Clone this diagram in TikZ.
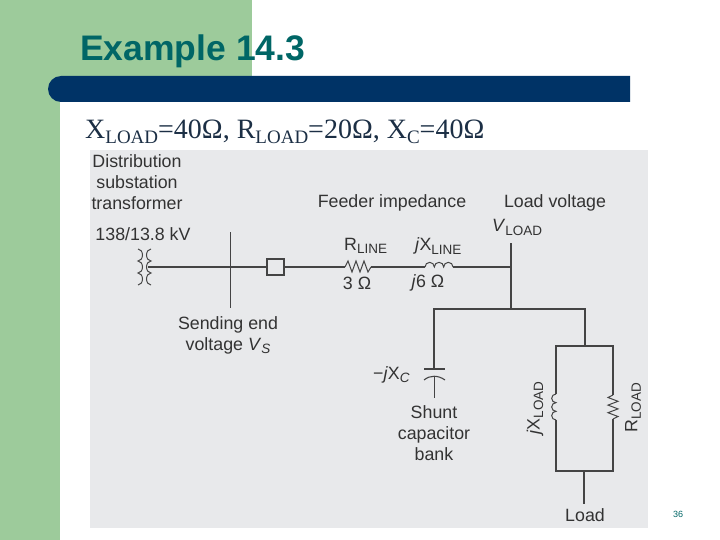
\documentclass[tikz,border=0pt]{standalone}
\usepackage{fontspec}
\setmainfont{Liberation Sans}
\newfontfamily\serifface{Liberation Serif}
\definecolor{sidegreen}{HTML}{9DCB9B}
\definecolor{barblue}{HTML}{003366}
\definecolor{titleteal}{HTML}{006666}
\definecolor{panelgrey}{HTML}{E8E9EB}
\definecolor{inktext}{HTML}{333333}
\definecolor{wireink}{HTML}{444444}
\definecolor{headnavy}{HTML}{1C2F45}
\newcommand{\fs}[1]{\fontsize{#1}{#1}\selectfont}
\newcommand{\lowsub}[1]{\raisebox{-3.5pt}{\fs{13.5}#1}}
\newcommand{\headsub}[1]{\raisebox{-5pt}{\fs{19}#1}}
\tikzset{
  label/.style={text=inktext,font=\fs{17.8},inner sep=0pt,align=center},
  wire/.style={draw=wireink,line width=1.1pt,line join=miter},
  coil/.style={draw=wireink,line width=1pt}
}
\begin{document}
\begin{tikzpicture}[x=1pt,y=-1pt]
\useasboundingbox (0,0) rectangle (720,540);
% Slide background
\fill[white] (0,0) rectangle (720,540);
\fill[sidegreen] (0,0) rectangle (60,540);
\fill[sidegreen] (60,0) rectangle (252,102);
\fill[barblue] (61,76) -- (630,76) -- (630,102) -- (61,102) arc[start angle=90,end angle=270,radius=13];
\fill[panelgrey] (90,150) rectangle (648,528);

% Heading
\node[anchor=base west,inner sep=0pt,text=titleteal,font=\fs{35.5}\bfseries] (title) at (80,61) {Example 14.3};
\node[anchor=base west,inner sep=0pt,text=headnavy,font=\serifface\fs{28}] (given) at (85,139)
  {X\headsub{LOAD}=40Ω, R\headsub{LOAD}=20Ω, X\headsub{C}=40Ω};
\node[anchor=base,text=titleteal,font=\fs{9},inner sep=0pt] (page) at (678,517) {36};

% Coordinates of the circuit
\coordinate (lineL) at (148,267);
\coordinate (vsT) at (230,232);
\coordinate (vsB) at (230,308);
\coordinate (boxL) at (267,267);
\coordinate (boxR) at (284,267);
\coordinate (rlineL) at (345,267);
\coordinate (rlineR) at (371,267);
\coordinate (xlineL) at (425,267);
\coordinate (xlineR) at (453,267);
\coordinate (busT) at (511,243);
\coordinate (busM) at (511,267);
\coordinate (busB) at (511,309);
\coordinate (tapL) at (434,309);
\coordinate (tapR) at (585,309);
\coordinate (loadT) at (585,346);
\coordinate (capTop) at (434,369);
\coordinate (capEnd) at (434,398);
\coordinate (boxTL) at (556,346);
\coordinate (boxTR) at (613,346);
\coordinate (boxBL) at (556,471);
\coordinate (boxBR) at (613,471);
\coordinate (xloadT) at (556,394);
\coordinate (xloadB) at (556,420);
\coordinate (rloadT) at (613,395);
\coordinate (rloadB) at (613,419);
\coordinate (loadB) at (584,471);
\coordinate (loadE) at (584,504);

% Feeder
\draw[wire] (lineL) -- (boxL);
\draw[wire,line width=0.9pt] (vsT) -- (vsB);
\draw[wire,fill=panelgrey,line width=1.4pt] (267,259) rectangle (284,275);
\draw[wire] (boxR) -- (rlineL);
\draw[coil] (rlineL) -- ++(3,-6) -- ++(4,11) -- ++(4,-11) -- ++(4,11) -- ++(4,-11) -- ++(4,11) -- (rlineR);
\draw[wire] (rlineR) -- (xlineL);
\draw[coil] (xlineL) arc[start angle=180,end angle=360,radius=4.67]
  arc[start angle=180,end angle=360,radius=4.67] arc[start angle=180,end angle=360,radius=4.67];
\draw[wire] (xlineR) -- (busM);
\draw[wire,line width=1.7pt] (busT) -- (busM);
\draw[wire] (busM) -- (busB);

% Transformer windings
\draw[coil] (138,249) arc[start angle=-90,end angle=90,x radius=4.5,y radius=6]
  arc[start angle=-90,end angle=90,x radius=4.5,y radius=6] arc[start angle=-90,end angle=90,x radius=4.5,y radius=6];
\draw[coil] (151,249) arc[start angle=270,end angle=90,x radius=4.5,y radius=6]
  arc[start angle=270,end angle=90,x radius=4.5,y radius=6] arc[start angle=270,end angle=90,x radius=4.5,y radius=6];

% Shunt capacitor and load
\draw[wire] (capTop) -- (tapL) -- (tapR) -- (loadT);
\draw[wire] (424,369) -- (445,369);
\draw[wire] (424,380) .. controls (430,375) and (438,375) .. (445,380);
\draw[wire,line width=0.9pt] (434,377) -- (capEnd);
\draw[wire] (xloadT) -- (boxTL) -- (boxTR) -- (rloadT);
\draw[wire] (xloadB) -- (boxBL) -- (boxBR) -- (rloadB);
\draw[coil] (xloadT) arc[start angle=-90,end angle=-270,radius=4.33]
  arc[start angle=-90,end angle=-270,radius=4.33] arc[start angle=-90,end angle=-270,radius=4.33];
\draw[coil] (rloadT) -- ++(-5,2.5) -- ++(10,3.8) -- ++(-10,3.8) -- ++(10,3.8) -- ++(-10,3.8) -- ++(10,3.8) -- (rloadB);
\draw[wire] (loadB) -- (loadE);

% Labels
\node[label] (dist) at (137,182) {Distribution\\[3.2pt]substation\\[3.2pt]transformer};
\node[label] (ratio) at (143,234) {138/13.8 kV};
\node[label] (feeder) at (392,203) {Feeder impedance};
\node[label] (loadv) at (555,203) {Load voltage};
\node[label,anchor=base west] (vload) at (492,232) {\textit{V}\lowsub{LOAD}};
\node[label,anchor=base west] (rline) at (344,250) {R\lowsub{LINE}};
\node[label,anchor=base west] (xline) at (415,251) {\textit{j}X\lowsub{LINE}};
\node[label] (r3) at (357,283) {3 Ω};
\node[label] (x6) at (428,283) {\textit{j}6 Ω};
\node[label] (vs) at (228,335) {Sending end\\[3.2pt]voltage \textit{V}\lowsub{\textit{S}}};
\node[label,anchor=base west] (xc) at (373,379) {−\textit{j}X\lowsub{\textit{C}}};
\node[label] (shunt) at (434,433) {Shunt\\[3.2pt]capacitor\\[3.2pt]bank};
\node[label,rotate=90] (xload) at (535,408) {\textit{j}X\lowsub{LOAD}};
\node[label,rotate=90] (rload) at (633,408) {R\lowsub{LOAD}};
\node[label] (load) at (585,515) {Load};
\end{tikzpicture}
\end{document}
